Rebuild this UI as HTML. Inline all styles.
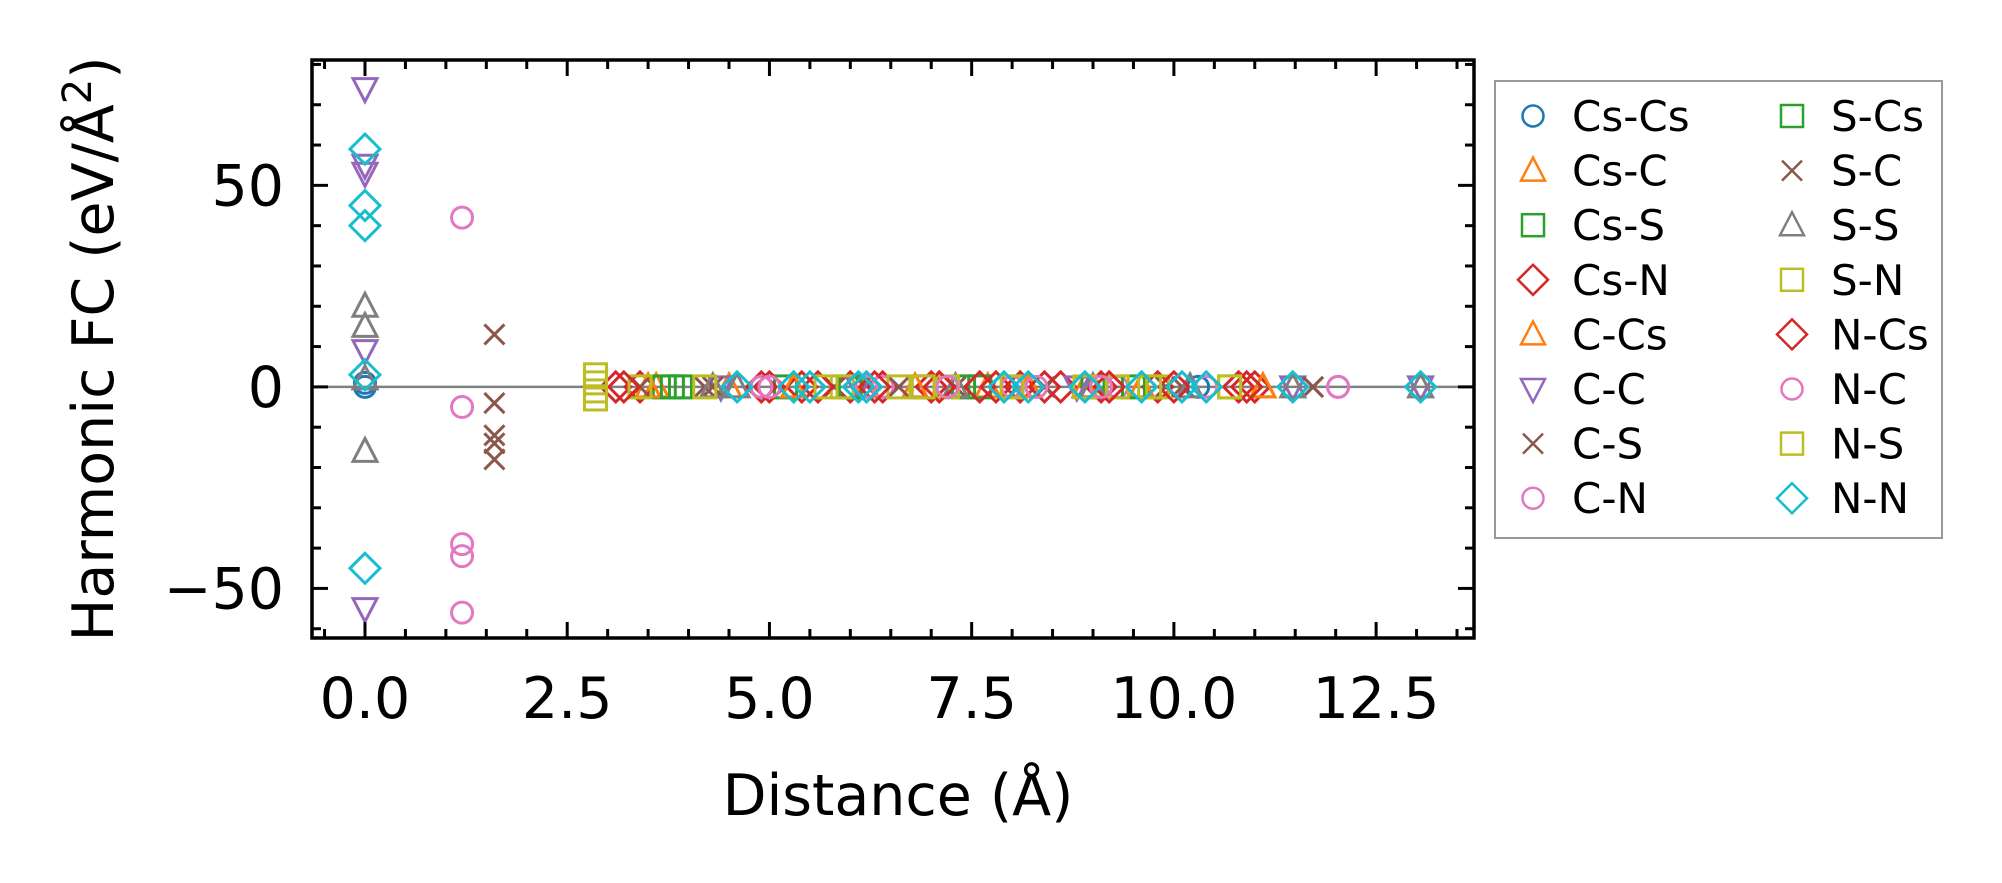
<!DOCTYPE html>
<html><head><meta charset="utf-8"><style>
html,body{margin:0;padding:0;background:#fff;width:2002px;height:883px;overflow:hidden}
svg{display:block;font-family:"DejaVu Sans","Liberation Sans",sans-serif}
</style></head><body>
<svg id="chart" width="2002" height="883" viewBox="0 0 2002 883" xmlns="http://www.w3.org/2000/svg">
<g id="marks"></g>
<g id="axes"></g>
<g id="legend"></g>
<text x="898" y="815" font-size="57" text-anchor="middle">Distance (Å)</text>
<text transform="translate(113,349) rotate(-90)" font-size="57" text-anchor="middle">Harmonic FC (eV/Å<tspan font-size="40" dy="-22">2</tspan><tspan dy="22">)</tspan></text>
</svg>
<script>
const seriesNames = ["Cs-Cs","Cs-C","Cs-S","Cs-N","C-Cs","C-C","C-S","C-N","S-Cs","S-C","S-S","S-N","N-Cs","N-C","N-S","N-N"];
const seriesColors = ["#1f77b4","#ff7f0e","#2ca02c","#d62728","#ff7f0e","#9467bd","#8c564b","#e377c2","#2ca02c","#8c564b","#7f7f7f","#bcbd22","#d62728","#e377c2","#bcbd22","#17becf"];
const seriesMarkers = ["o","^","s","D","^","v","x","o","s","x","^","s","D","o","s","D"];
const xCsCs=[0,0,4.9,7.9,10.3], yCsCs=[1,0,0,0,0];
const xCsC=[3.6,4.5,6.2,7.7,8.9,11.1], yCsC=[0,0,0,0,0,0];
const xCsS=[3.7,3.9,5.2,6.9,7.6,9.0], yCsS=[0,0,0,0,0,0];
const xCsN=[3.1,3.4,4.9,5.4,6.0,6.4,7.0,7.8,8.1,8.6,9.1,9.8,10.8,11.0], yCsN=[0,0,0,0,0,0,0,0,0,0,0,0,0,0];
const xCCs=[3.5,5.3,6.8,8.2,9.6,11.1], yCCs=[0,0,0,0,0,0];
const xCC=[0,0,0,0,0,4.4,6.1,8.8,11.47,13.05], yCC=[74,55,53,9,-55,0,0,0,0,0];
const xCS=[1.6,1.6,1.6,1.6,1.6,3.4,4.2,5.8,7.3,9.9,11.72], yCS=[13,-4,-12,-14,-18,0,0,0,0,0,0];
const xCN=[1.2,1.2,1.2,1.2,1.2,4.9,6.4,8.0,9.3,12.03], yCN=[42,-5,-39,-42,-56,0,0,0,0,0];
const xSCs=[3.8,6.0,7.4,9.5], ySCs=[0,0,0,0];
const xSC=[4.3,6.6,8.4,10.1,11.72], ySC=[0,0,0,0,0];
const xSS=[0,0,0,0,4.3,4.6,7.3,9.0,10.2,11.47,13.05], ySS=[20,15,2,-16,0,0,0,0,0,0,0];
const xSN=[3.4,4.2,5.9,6.6,7.2,8.9,9.3,9.8,10.69], ySN=[0,0,0,0,0,0,0,0,0];
const xNCs=[3.2,5.0,5.6,6.3,7.1,7.6,8.4,9.2,10.0,10.9], yNCs=[0,0,0,0,0,0,0,0,0,0];
const xNC=[5.0,6.2,7.2,8.3,9.1,10.4,12.03], yNC=[0,0,0,0,0,0,0];
const xNS=[2.85,2.85,2.85,2.85,5.7,6.9,8.0,9.7,10.69], yNS=[3,1,-1,-3,0,0,0,0,0];
const xNN=[0,0,0,0,0,4.6,5.3,5.5,6.1,6.2,7.9,8.2,8.9,9.6,10.1,10.4,11.47,13.05], yNN=[59,45,40,3,-45,0,0,0,0,0,0,0,0,0,0,0,0,0];
const seriesX=[xCsCs,xCsC,xCsS,xCsN,xCCs,xCC,xCS,xCN,xSCs,xSC,xSS,xSN,xNCs,xNC,xNS,xNN];
const seriesY=[yCsCs,yCsC,yCsS,yCsN,yCCs,yCC,yCS,yCN,ySCs,ySC,ySS,ySN,yNCs,yNC,yNS,yNN];
const xTicks=[0,2.5,5,7.5,10,12.5];
const xTickLabels=["0.0","2.5","5.0","7.5","10.0","12.5"];
const yTicks=[-50,0,50];
const yTickLabels=["\u221250","0","50"];

const L=312,R=1474,T=60,B=638;
const xMin=-0.655,xMax=13.71,yMin=-62.3,yMax=81.1;
function sx(v){return L+(v-xMin)/(xMax-xMin)*(R-L);}
function sy(v){return B-(v-yMin)/(yMax-yMin)*(B-T);}
const NS="http://www.w3.org/2000/svg";
function mk(tag,attrs){const e=document.createElementNS(NS,tag);for(const k in attrs)e.setAttribute(k,attrs[k]);return e;}
function marker(m,cx,cy,color,sw){
  let e;
  if(m==="o") e=mk("circle",{cx:cx,cy:cy,r:10.5});
  else if(m==="s") e=mk("rect",{x:cx-11,y:cy-11,width:22,height:22});
  else if(m==="^") e=mk("polygon",{points:`${cx},${cy-13} ${cx+12},${cy+10} ${cx-12},${cy+10}`});
  else if(m==="v") e=mk("polygon",{points:`${cx},${cy+13} ${cx+12},${cy-10} ${cx-12},${cy-10}`});
  else if(m==="D") e=mk("polygon",{points:`${cx},${cy-15} ${cx+15},${cy} ${cx},${cy+15} ${cx-15},${cy}`});
  else e=mk("path",{d:`M${cx-10},${cy-10}L${cx+10},${cy+10}M${cx-10},${cy+10}L${cx+10},${cy-10}`});
  e.setAttribute("fill","none");e.setAttribute("stroke",color);e.setAttribute("stroke-width",sw);
  return e;
}
const marks=document.getElementById("marks");
const zl=mk("line",{x1:L,x2:R,y1:sy(0),y2:sy(0),stroke:"#808080","stroke-width":2.5});


marks.appendChild(zl);
seriesNames.forEach((n,i)=>{
  const g=mk("g",{});
  
  
  seriesX[i].forEach((xv,j)=>{
    const p=marker(seriesMarkers[i],sx(xv),sy(seriesY[i][j]),seriesColors[i],3);
    
    
    g.appendChild(p);
  });
  marks.appendChild(g);
});
const axes=document.getElementById("axes");
const frame=mk("rect",{x:L,y:T,width:R-L,height:B-T,fill:"none",stroke:"#000","stroke-width":3.5});


axes.appendChild(frame);
function tick(x1,y1,x2,y2){const t=mk("line",{x1:x1,y1:y1,x2:x2,y2:y2,stroke:"#000","stroke-width":3});axes.appendChild(t);}
for(let k=-1;k<=27;k++){const v=k*0.5;const x=sx(v);if(x<L||x>R)continue;const len=(k%5===0)?16:9;tick(x,B,x,B-len);tick(x,T,x,T+len);}
for(let k=-6;k<=8;k++){const v=k*10;const y=sy(v);if(y<T||y>B)continue;const len=(k%5===0)?16:9;tick(L,y,L+len,y);tick(R,y,R-len,y);}
xTicks.forEach((v,i)=>{const t=mk("text",{x:sx(v),y:718,"font-size":57,"text-anchor":"middle"});t.textContent=xTickLabels[i];


axes.appendChild(t);});
yTicks.forEach((v,i)=>{const t=mk("text",{x:284,y:sy(v)+20,"font-size":57,"text-anchor":"end"});t.textContent=yTickLabels[i];


axes.appendChild(t);});
const leg=document.getElementById("legend");
const box=mk("rect",{x:1495,y:81,width:447,height:457,fill:"#fff",stroke:"#999","stroke-width":2});


leg.appendChild(box);
seriesNames.forEach((n,i)=>{
  const col=Math.floor(i/8),row=i%8;
  const cy=116+row*54.6;
  const mxp=col?1792:1533, tx=col?1831:1572;
  const g=mk("g",{});
  
  
  g.appendChild(marker(seriesMarkers[i],mxp,cy,seriesColors[i],2.5));
  const t=mk("text",{x:tx,y:cy+15,"font-size":42});t.textContent=n;
  g.appendChild(t);
  leg.appendChild(g);
});
</script>
</body></html>
